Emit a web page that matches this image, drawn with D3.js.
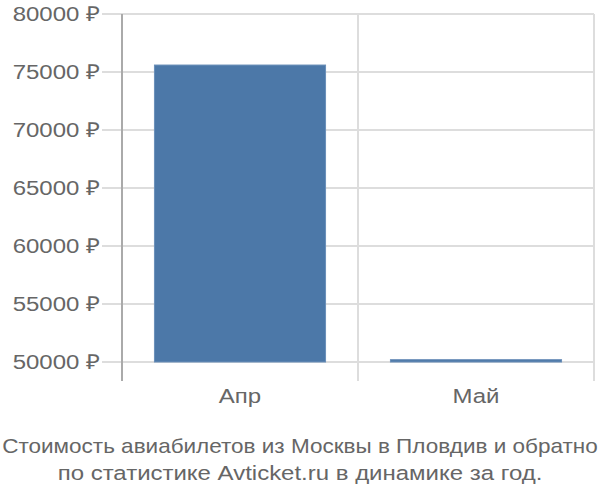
<!DOCTYPE html>
<html lang="ru">
<head>
<meta charset="UTF-8">
<title>Стоимость авиабилетов</title>
<script src="https://d3js.org/d3.v7.min.js"></script>
<style>
    body { margin: 0; background: #fff; }
    svg { display: block; font-family: "Liberation Sans", Arial, sans-serif; }
</style>
</head>
<body>
<svg></svg>
<script>
    // данные
    const months = ["Апр", "Май"];
    const prices = [75600, 50200];
    const yTicks = [50000, 55000, 60000, 65000, 70000, 75000, 80000];
    const titleLines = [
        "Стоимость авиабилетов из Москвы в Пловдив и обратно",
        "по статистике Avticket.ru в динамике за год."
    ];

    const width = 600;
    const height = 500;
    const plot = { left: 122, right: 594, top: 14, bottom: 362, axisBottom: 381 };
    const fontSize = 20.5;
    const stretch = 1.17; // текст в оригинале растянут по горизонтали

    const svg = d3.select("svg").attr("width", width).attr("height", height);

    const x = d3.scaleBand().domain(months).range([plot.left, plot.right]).padding(0);
    const y = d3.scaleLinear().domain([50000, 80000]).range([plot.bottom, plot.top]);

    // горизонтальная сетка
    svg.append("g")
        .selectAll("line")
        .data(yTicks)
        .join("line")
        .attr("x1", plot.left - 20)
        .attr("x2", plot.right)
        .attr("y1", d => y(d))
        .attr("y2", d => y(d))
        .attr("stroke", "#dddddd")
        .attr("stroke-width", 2);

    // вертикальная сетка (границы категорий)
    const edges = months.map(m => x(m)).concat([x(months[months.length - 1]) + x.bandwidth()]);
    svg.append("g")
        .selectAll("line")
        .data(edges)
        .join("line")
        .attr("x1", d => d)
        .attr("x2", d => d)
        .attr("y1", plot.top)
        .attr("y2", plot.axisBottom)
        .attr("stroke", (d, i) => i === 0 ? "#aaaaaa" : "#dddddd")
        .attr("stroke-width", 2);

    // подписи оси Y
    svg.append("g")
        .selectAll("text")
        .data(yTicks)
        .join("text")
        .attr("transform", d => `translate(100,${y(d)}) scale(${stretch},1)`)
        .attr("dy", "0.35em")
        .attr("text-anchor", "end")
        .attr("fill", "#666666")
        .attr("font-size", fontSize)
        .text(d => d + " ₽");

    // столбцы
    const barW = x.bandwidth() * 0.725;
    svg.append("g")
        .selectAll("rect")
        .data(months)
        .join("rect")
        .attr("x", d => x(d) + (x.bandwidth() - barW) / 2)
        .attr("width", barW)
        .attr("y", (d, i) => y(prices[i]))
        .attr("height", (d, i) => y(50000) - y(prices[i]))
        .attr("fill", "#4c78a8")
        .attr("stroke", "#6a8fb9")
        .attr("stroke-width", 1);

    // подписи оси X
    svg.append("g")
        .selectAll("text")
        .data(months)
        .join("text")
        .attr("transform", d => `translate(${x(d) + x.bandwidth() / 2},403) scale(${stretch},1)`)
        .attr("text-anchor", "middle")
        .attr("fill", "#666666")
        .attr("font-size", fontSize)
        .text(d => d);

    // заголовок (длинная строка ужимается по ширине окна)
    svg.append("g")
        .selectAll("text")
        .data(titleLines)
        .join("text")
        .attr("text-anchor", "middle")
        .attr("fill", "#666666")
        .attr("font-size", fontSize)
        .text(d => d)
        .attr("transform", function (d, i) {
            const w = this.getComputedTextLength();
            const k = Math.min(stretch, 596 / w);
            return `translate(${width / 2},${453 + i * 27}) scale(${k},1)`;
        });
</script>
</body>
</html>
